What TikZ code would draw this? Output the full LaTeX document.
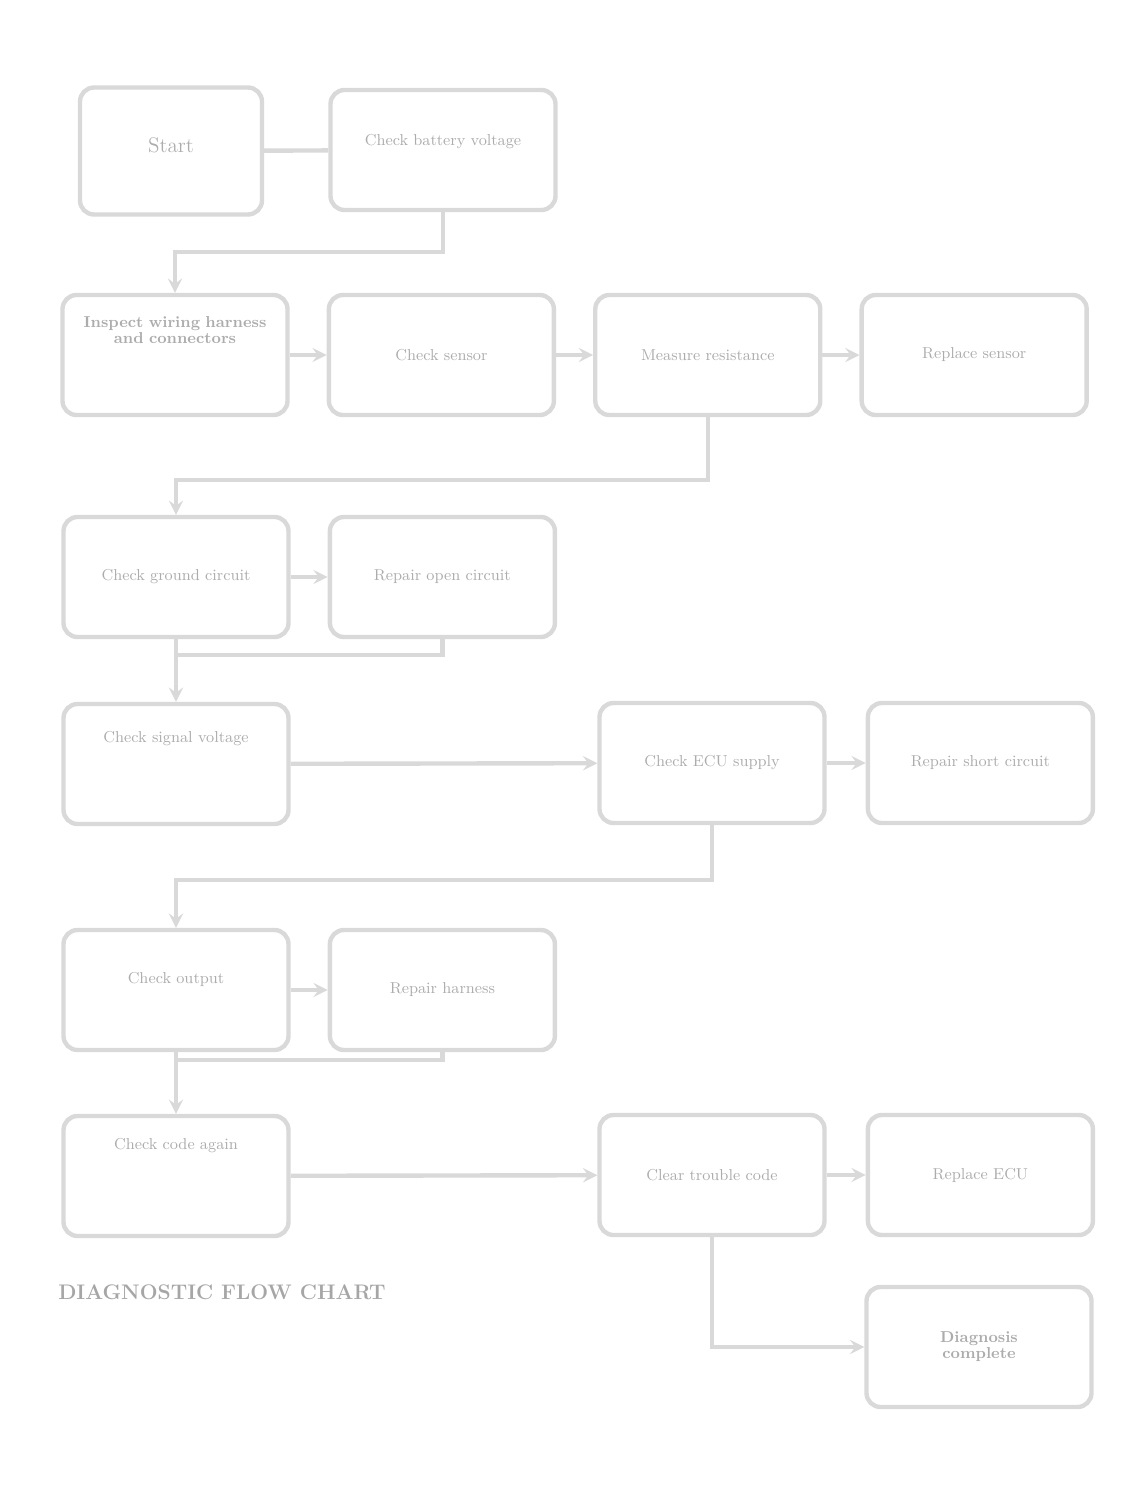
\documentclass[tikz,border=0pt]{standalone}
\usepackage{amsmath}
\usepackage{tikz}
\usetikzlibrary{shapes,arrows}
\usetikzlibrary{positioning}
\tikzstyle{block} = [rectangle, draw=gray!30, line width=2.5pt, rounded corners=8pt, minimum width=4.5cm, minimum height=2.4cm, text width=4cm, text=gray!65, font=\small]
\tikzstyle{line} = [draw=gray!30, line width=2.5pt]

\begin{document}
\begin{tikzpicture}[every text node part/.style={align=center}, >=stealth]
   \useasboundingbox (0,0) rectangle (22.92,-29.76);
   % Place nodes
   \node [block, minimum width=3.64cm, minimum height=2.54cm, text width=3cm] (1) at (3.42,-3.02) {\large Start \\[-0.15cm] ~};
   \node [block] (2) at (8.86,-3.0) {Check battery voltage \\ ~};
   \node [block] (3) at (3.5,-7.1) {\bfseries Inspect wiring harness \\[-0.5ex] \bfseries and connectors \\[0.6cm] ~};
   \node [block, right = 0.74cm of 3] (4) {Check sensor};
   \node [block, right = 0.74cm of 4] (5) {Measure resistance};
   \node [block, right = 0.74cm of 5] (6) {Replace sensor};
   \node [block] (7) at (3.52,-11.54) {Check ground circuit};
   \node [block, right = 0.74cm of 7] (8) {Repair open circuit};
   \node [block] (9) at (3.52,-15.28) {Check signal voltage \\[0.7cm] ~};
   \node [block] (10) at (14.24,-15.26) {Check ECU supply};
   \node [block, right = 0.78cm of 10] (11) {Repair short circuit};
   \node [block] (12) at (3.52,-19.8) {Check output \\[0.1cm] ~};
   \node [block, right = 0.74cm of 12] (13) {Repair harness};
   \node [block] (14) at (3.52,-23.52) {Check code again \\[0.9cm] ~};
   \node [block] (15) at (14.24,-23.5) {Clear trouble code};
   \node [block, right = 0.78cm of 15] (16) {Replace ECU};
   \node [block] (17) at (19.58,-26.94) {\bfseries Diagnosis \\[-0.5ex] \bfseries complete};
   \node [text=gray!70, font=\large\bfseries] (18) at (4.44,-25.84) {DIAGNOSTIC FLOW CHART};
   % Bus points
   \coordinate (b1) at (3.5,-13.1);
   \coordinate (b2) at (3.5,-21.2);

   \draw[line] (1) -- (2);
   \draw[line, ->] (2.south) -- ++(0,-0.8) -| (3.north);
   \draw[line, ->] (3) -- (4);
   \draw[line, ->] (4) -- (5);
   \draw[line, ->] (5) -- (6);
   \draw[line, ->] (5.south) -- ++(0,-1.26) -| (7.north);
   \draw[line, ->] (7) -- (8);
   \draw[line] (8.south) |- (b1);
   \draw[line, ->] (7.south) -- (9.north);
   \draw[line, ->] (9) -- (10);
   \draw[line, ->] (10) -- (11);
   \draw[line, ->] (10.south) -- ++(0,-1.1) -| (12.north);
   \draw[line, ->] (12) -- (13);
   \draw[line] (13.south) |- (b2);
   \draw[line, ->] (12.south) -- (14.north);
   \draw[line, ->] (14) -- (15);
   \draw[line, ->] (15) -- (16);
   \draw[line, ->] (15.south) |- (17.west);
\end{tikzpicture}
\end{document}
